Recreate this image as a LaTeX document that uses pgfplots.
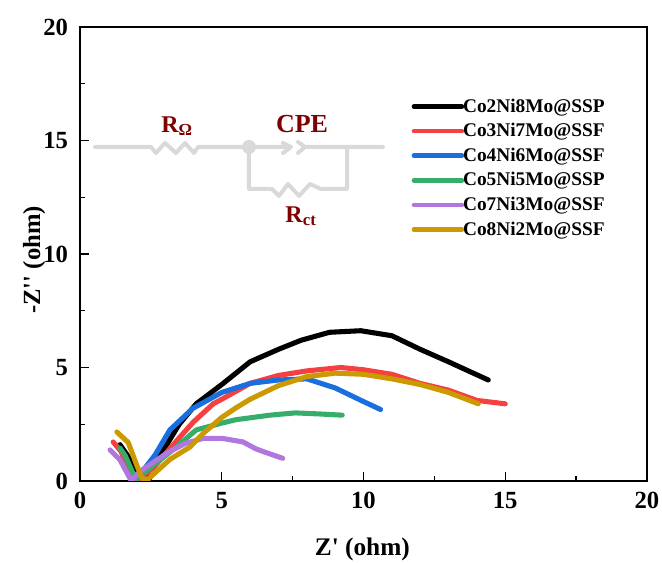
\documentclass[border=0pt]{standalone}
\usepackage{pgfplots}
\pgfplotsset{compat=1.18}
\usepackage{fontspec}
\setmainfont{Liberation Serif}
\definecolor{cblack}{HTML}{000000}
\definecolor{cred}{HTML}{F44040}
\definecolor{cblue}{HTML}{1A6FDF}
\definecolor{cgreen}{HTML}{37AD6B}
\definecolor{cpurple}{HTML}{B177DE}
\definecolor{cgold}{HTML}{CC9900}
\definecolor{cdark}{HTML}{7F0000}
\definecolor{cgrey}{HTML}{D9D9D9}
\begin{document}
\begin{tikzpicture}
\path[use as bounding box] (-60pt,-61.5pt) rectangle (436.5pt,360.75pt);
\begin{axis}[
  at={(0pt,0pt)},anchor=south west,
  scale only axis,width=425.25pt,height=340.5pt,
  xmin=0,xmax=20,ymin=0,ymax=20,
  xtick={0,5,...,20},ytick={0,5,...,20},
  tick pos=left,
  minor tick num=1,
  tick align=inside,
  axis line style={line width=1.1pt},
  tick style={line width=1.1pt,black},
  major tick length=7pt,
  minor tick length=3.5pt,
  ticklabel style={font=\fontsize{18.5}{18.5}\selectfont\bfseries},
  xticklabel style={yshift=-5pt},
  yticklabel style={xshift=-5.5pt},
  /pgf/number format/assume math mode=true,
  xlabel={\fontsize{19}{19}\selectfont\bfseries Z\textquotesingle{} (ohm)},
  ylabel={\fontsize{18.5}{18.5}\selectfont\bfseries -Z\textquotesingle\textquotesingle{} (ohm)},
  xlabel style={at={(axis description cs:0.498,0)},anchor=north,yshift=-39.5pt},
  ylabel style={at={(axis description cs:0,0.487)},anchor=south,yshift=22.5pt},
  legend style={draw=none,fill=none,at={(0.584,0.848)},anchor=north west,
    font=\fontsize{14.5}{14.5}\selectfont\bfseries,row sep=2.85pt,inner sep=0pt},
  legend cell align=left,
  legend image code/.code={\draw[#1,line width=3.4pt,overlay] (0pt,0pt) -- (36pt,0pt);\path (0pt,0pt) (33pt,0pt);},
  every axis plot/.append style={line width=3.8pt,line join=round,line cap=round},
  clip=true,
]
\addplot[cblack] coordinates {(1.41,1.6)(1.8,0.9)(2.1,0.1)(2.3,0.2)(2.8,1.1)(3.06,1.6)(3.5,2.5)(4.1,3.4)(5,4.25)(6,5.25)(7,5.8)(7.8,6.2)(8.8,6.55)(9.9,6.62)(11,6.4)(12,5.8)(13,5.25)(14.4,4.45)};
\addlegendentry{Co2Ni8Mo@SSP}
\addplot[cred] coordinates {(1.17,1.72)(1.45,1.3)(1.65,0.6)(1.85,0.05)(2.1,0.1)(2.6,0.6)(3.5,1.9)(4,2.6)(4.7,3.4)(5,3.6)(6,4.3)(7,4.65)(8,4.85)(9.2,5.0)(10,4.9)(11,4.7)(12,4.3)(13,4.0)(14,3.55)(15,3.4)};
\addlegendentry{Co3Ni7Mo@SSF}
\addplot[cblue] coordinates {(2.0,0.1)(2.65,1.15)(3.17,2.25)(3.98,3.2)(5,3.9)(6,4.3)(7,4.45)(8,4.5)(9,4.1)(10,3.5)(10.6,3.15)};
\addlegendentry{Co4Ni6Mo@SSF}
\addplot[cgreen] coordinates {(1.41,1.45)(1.6,1.1)(1.85,0.4)(2.0,0.1)(2.3,0.4)(2.8,0.9)(3.4,1.5)(4.1,2.25)(5,2.55)(5.5,2.7)(6.7,2.9)(7.6,3.0)(8.5,2.95)(9.25,2.9)};
\addlegendentry{Co5Ni5Mo@SSP}
\addplot[cpurple] coordinates {(1.06,1.37)(1.41,0.93)(1.66,0.35)(1.8,0.03)(2.18,0.48)(3.07,1.23)(3.7,1.65)(4.35,1.88)(5,1.88)(5.75,1.72)(6.2,1.42)(6.5,1.28)(7.15,1.0)};
\addlegendentry{Co7Ni3Mo@SSF}
\addplot[cgold] coordinates {(1.3,2.16)(1.7,1.7)(2.0,0.7)(2.2,0.1)(2.4,0.08)(3.17,0.95)(3.88,1.5)(4.35,2.1)(5,2.8)(5.5,3.22)(6,3.6)(7,4.2)(8,4.6)(9,4.75)(10,4.7)(11,4.5)(12,4.25)(13,3.9)(14.05,3.4)};
\addlegendentry{Co8Ni2Mo@SSF}
\end{axis}
% equivalent circuit annotation: 1px = 0.75pt, coordinates are image pixels
\begin{scope}[x=0.75pt,y=-0.75pt,shift={(-80,-481)},line width=3pt,cgrey,line join=round,line cap=round]
\draw (95,147) -- (145,147) -- (151,147) -- (156,153) -- (165,143) -- (176,153) -- (185,143) -- (194,153) -- (198,147) -- (250,147);
\draw (250,147) -- (286,147) (283,143) -- (291,147) -- (283,153);
\draw (298,142) -- (305,147) -- (298,153) (305,147) -- (383,147);
\draw (249,147) -- (249,189) -- (272,189) -- (279,196) -- (288,184) -- (299,196) -- (310,184) -- (321,189) -- (347,189) -- (347,147);
\fill (249,147) circle (7);
\node[cdark,font=\fontsize{18}{18}\selectfont\bfseries] at (177,126) {R\textsubscript{Ω}};
\node[cdark,font=\fontsize{19.5}{19.5}\selectfont\bfseries] at (302,124) {CPE};
\node[cdark,font=\fontsize{18}{18}\selectfont\bfseries] at (301,216) {R\textsubscript{ct}};
\end{scope}
\end{tikzpicture}
\end{document}
